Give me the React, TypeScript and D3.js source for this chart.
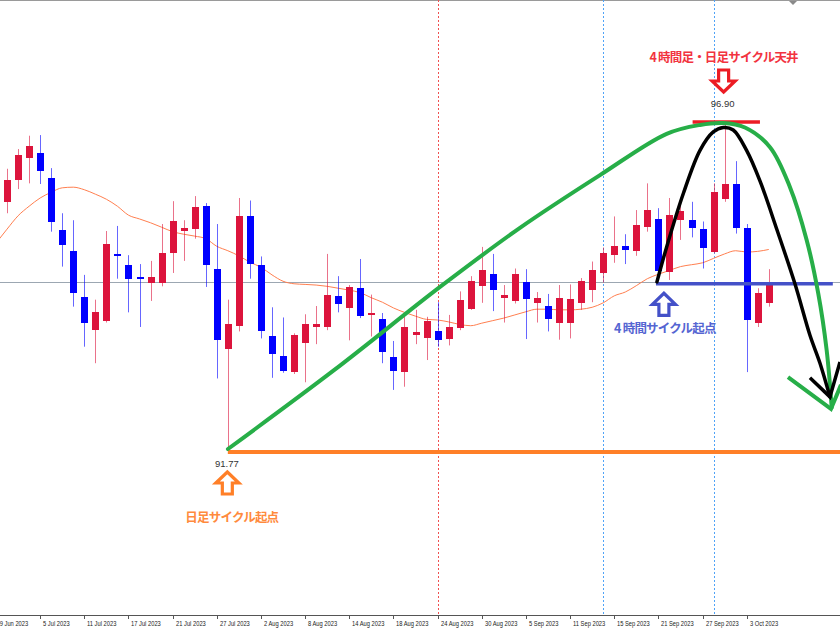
import React from "react";
import * as d3 from "d3";

// ---- data (daily candles) ----
const dates: string[] = [
  "2023-06-29", "2023-06-30",
  "2023-07-03", "2023-07-04", "2023-07-05", "2023-07-06", "2023-07-07", "2023-07-10", "2023-07-11",
  "2023-07-12", "2023-07-13", "2023-07-14", "2023-07-17", "2023-07-18", "2023-07-19", "2023-07-20",
  "2023-07-21", "2023-07-24", "2023-07-25", "2023-07-26", "2023-07-27", "2023-07-28", "2023-07-31",
  "2023-08-01", "2023-08-02", "2023-08-03", "2023-08-04", "2023-08-07", "2023-08-08", "2023-08-09",
  "2023-08-10", "2023-08-11", "2023-08-14", "2023-08-15", "2023-08-16", "2023-08-17", "2023-08-18",
  "2023-08-21", "2023-08-22", "2023-08-23", "2023-08-24", "2023-08-25", "2023-08-28", "2023-08-29",
  "2023-08-30", "2023-08-31", "2023-09-01", "2023-09-04", "2023-09-05", "2023-09-06", "2023-09-07",
  "2023-09-08", "2023-09-11", "2023-09-12", "2023-09-13", "2023-09-14", "2023-09-15", "2023-09-18",
  "2023-09-19", "2023-09-20", "2023-09-21", "2023-09-22", "2023-09-25", "2023-09-26", "2023-09-27",
  "2023-09-28", "2023-09-29", "2023-10-02", "2023-10-03", "2023-10-04", "2023-10-05",
];

const opens: (number | null)[] = [
  null, 95.65, 96.01, 96.35, 96.43, 96.04, 95.21, 94.89, 94.16, 93.64, 93.78, 94.84, 94.67, 94.48,
  94.38, 94.38, 94.85, 95.2, 95.23, 95.6, 94.61, 93.35, 93.71, 95.44, 94.66, 93.55, 93.24, 92.98,
  93.44, 93.69, 93.69, 94.18, 93.99, 94.3, 93.88, 93.82, 93.22, 92.98, 93.57, 93.52, 93.63, 93.5,
  93.67, 93.97, 94.34, 94.52, 94.15, 94.1, 94.4, 94.06, 94.02, 93.76, 93.75, 94.07, 94.27, 94.54,
  94.83, 94.96, 94.89, 95.27, 95.39, 94.56, 95.38, 95.37, 95.23, 94.87, 95.7, 95.94, 95.24, 93.76,
  94.06,
];
const highs: (number | null)[] = [
  null, 96.18, 96.49, 96.7, 96.71, 96.19, 95.48, 95.37, 94.51, 94.12, 95.2, 95.28, 94.82, 94.68,
  94.73, 95.31, 95.67, 95.37, 95.75, 95.64, 95.31, 94.12, 95.72, 95.68, 94.8, 94.0, 93.84, 93.59,
  93.89, 94.02, 94.84, 94.49, 94.35, 94.76, 94.2, 93.91, 93.47, 93.85, 93.96, 93.85, 94.08, 93.88,
  94.25, 94.49, 94.95, 94.84, 94.35, 94.61, 94.6, 94.24, 94.21, 94.35, 94.36, 94.46, 94.72, 94.94,
  95.43, 95.15, 95.53, 95.95, 95.56, 95.72, 95.61, 95.66, 95.35, 95.95, 96.9, 96.3, 95.31, 94.3,
  94.6,
];
const lows: (number | null)[] = [
  null, 95.48, 95.86, 95.95, 95.94, 95.19, 94.64, 94.01, 93.38, 93.12, 93.76, 94.45, 93.92, 93.69,
  94.1, 94.33, 94.54, 94.73, 95.08, 94.32, 92.88, 91.77, 93.62, 94.45, 93.51, 92.89, 92.97, 92.95,
  92.82, 93.42, 93.64, 93.92, 93.48, 93.83, 93.54, 93.12, 92.7, 92.75, 93.42, 93.17, 93.38, 93.4,
  93.64, 93.96, 94.07, 93.94, 93.76, 94.06, 93.5, 93.76, 93.62, 93.49, 93.51, 93.96, 94.08, 94.39,
  94.7, 94.68, 94.81, 95.19, 94.53, 94.43, 95.06, 95.1, 94.61, 94.85, 95.66, 95.16, 92.98, 93.69,
  94.01,
];
const closes: (number | null)[] = [
  null, 96.0, 96.39, 96.54, 96.14, 95.34, 94.98, 94.23, 93.75, 93.92, 95.0, 94.8, 94.44, 94.46,
  94.48, 94.85, 95.36, 95.25, 95.58, 94.67, 93.49, 93.73, 95.44, 94.68, 93.62, 93.26, 92.99, 93.56,
  93.73, 93.74, 94.2, 94.05, 94.32, 93.86, 93.91, 93.29, 93.0, 93.69, 93.61, 93.78, 93.49, 93.69,
  94.12, 94.42, 94.59, 94.27, 94.2, 94.53, 94.13, 94.14, 93.81, 94.15, 94.13, 94.41, 94.59, 94.85,
  94.97, 94.9, 95.3, 95.53, 94.57, 95.45, 95.52, 95.24, 94.94, 95.82, 95.94, 95.24, 93.8, 94.22,
  94.39,
];
// moving average line (orange), value at each bar
const maValues: number[] = [
  95.01, 95.23, 95.44, 95.59, 95.72, 95.81, 95.88, 95.89, 95.85, 95.78, 95.7, 95.59, 95.45, 95.39,
  95.33, 95.26, 95.19, 95.15, 95.12, 95.08, 94.96, 94.89, 94.81, 94.71, 94.63, 94.51, 94.41, 94.37,
  94.36, 94.35, 94.33, 94.3, 94.27, 94.23, 94.15, 94.08, 93.99, 93.92, 93.86, 93.81, 93.8, 93.77,
  93.73, 93.71, 93.75, 93.79, 93.83, 93.88, 93.93, 93.97, 93.97, 93.96, 93.96, 93.97, 94.0, 94.07,
  94.18, 94.24, 94.34, 94.45, 94.52, 94.58, 94.64, 94.67, 94.7, 94.77, 94.84, 94.89, 94.87, 94.88,
  94.91,
];

const tickLabels: string[] = [
  "29 Jun 2023", "5 Jul 2023", "11 Jul 2023", "17 Jul 2023", "21 Jul 2023", "27 Jul 2023",
  "2 Aug 2023", "8 Aug 2023", "14 Aug 2023", "18 Aug 2023", "24 Aug 2023", "30 Aug 2023",
  "5 Sep 2023", "11 Sep 2023", "15 Sep 2023", "21 Sep 2023", "27 Sep 2023", "3 Oct 2023",
];

// annotation levels and drawn paths (bar index, price)
const cycleLow = 91.77;
const cycleHigh = 96.9;
const priceLine = 94.4;
const fourHourStart = 94.37;
const redSeparator = ["2023-08-24"];
const blueSeparators = ["2023-09-14", "2023-09-28"];

const greenCurve: [number, number][] = [
  [21.01, 91.77], [30.62, 93.01], [40.22, 94.32], [47.46, 95.25], [54.71, 96.08],
  [60.75, 96.73], [63.77, 96.87], [65.85, 96.9], [67.84, 96.83], [70.11, 96.52],
  [71.92, 95.89], [73.43, 95.06], [74.48, 94.22], [75.24, 93.33], [75.7, 92.42],
];
const greenHead: [number, number][] = [[71.74, 92.9], [75.63, 92.4], [76.54, 92.78]];
const blackCurve: [number, number][] = [
  [59.87, 94.4], [60.75, 94.95], [62.26, 95.79], [63.77, 96.47], [64.97, 96.76],
  [65.88, 96.83], [66.78, 96.79], [67.99, 96.47], [69.2, 95.99], [70.74, 95.22],
  [72.37, 94.37], [73.73, 93.56], [74.64, 93.12], [75.54, 92.59],
];
const blackHead: [number, number][] = [[73.73, 92.89], [75.54, 92.59], [76.45, 93.14]];

const W = 840;
const H = 630;
const AXIS_Y = 615;

const UP = "#DC143C";
const DOWN = "#0000FF";

function BlockArrow({ cx, tipY, dir, color }: { cx: number; tipY: number; dir: "up" | "down"; color: string }) {
  const hw = 11.5; // head half width
  const sw = 5; // shaft half width
  const hh = 11; // head height
  const total = 22;
  const s = dir === "down" ? -1 : 1;
  const pts: [number, number][] = [
    [cx, tipY],
    [cx + hw, tipY + s * hh],
    [cx + sw, tipY + s * hh],
    [cx + sw, tipY + s * total],
    [cx - sw, tipY + s * total],
    [cx - sw, tipY + s * hh],
    [cx - hw, tipY + s * hh],
  ];
  return (
    <polygon
      points={pts.map((p) => p.join(",")).join(" ")}
      fill="#fff"
      stroke={color}
      strokeWidth={3.2}
      strokeLinejoin="miter"
    />
  );
}

export default function App() {
  const parse = d3.timeParse("%Y-%m-%d");
  const fmt = d3.timeFormat("%-d %b %Y");
  const labelsOfDates = dates.map((d) => fmt(parse(d) as Date));

  const x = d3.scaleLinear().domain([0, 68]).range([-4, 746.7]);
  const y = d3.scaleLinear().domain([cycleLow, cycleHigh]).range([449, 123]);

  const idxOf = (d: string) => dates.indexOf(d);

  const maLine = d3
    .line<number>()
    .x((_, i) => x(i))
    .y((v) => y(v))
    .curve(d3.curveMonotoneX);

  const annLine = d3
    .line<[number, number]>()
    .x((d) => x(d[0]))
    .y((d) => y(d[1]))
    .curve(d3.curveCatmullRom.alpha(0.5));
  const straight = d3
    .line<[number, number]>()
    .x((d) => x(d[0]))
    .y((d) => y(d[1]));

  const topIdx = highs.indexOf(cycleHigh);
  const lowIdx = lows.indexOf(cycleLow);
  const fourIdx = 59.87;

  const jpFont = "'Noto Sans CJK JP', 'Noto Sans', sans-serif";
  const axisFont = "'Liberation Sans', 'DejaVu Sans', sans-serif";

  return (
    <svg
      width={W}
      height={H}
      viewBox={`0 0 ${W} ${H}`}
      style={{ position: "absolute", left: 0, top: 0, background: "#fff" }}
    >
      <rect x={0} y={0} width={W} height={H} fill="#fff" />
      <rect x={0} y={0} width={W} height={1} fill="#9a9a9a" />
      <polygon points="789,1 797,1 793,5" fill="#8a8a8a" />

      {/* period separators */}
      {redSeparator.map((d) => {
        const xx = Math.round(x(idxOf(d))) + 0.5;
        return <line key={d} x1={xx} x2={xx} y1={0} y2={AXIS_Y} stroke="#F05050" strokeWidth={1} strokeDasharray="2,2" />;
      })}
      {blueSeparators.map((d) => {
        const xx = Math.round(x(idxOf(d))) + 0.5;
        return <line key={d} x1={xx} x2={xx} y1={0} y2={AXIS_Y} stroke="#4FA3F7" strokeWidth={1} strokeDasharray="2,2" />;
      })}

      {/* horizontal price line */}
      <line x1={0} x2={W} y1={Math.round(y(priceLine)) + 0.5} y2={Math.round(y(priceLine)) + 0.5} stroke="#9CA7B2" strokeWidth={1} />

      {/* moving average */}
      <path d={maLine(maValues) || ""} fill="none" stroke="#FF7F50" strokeWidth={1} />

      {/* candles */}
      {dates.map((d, i) => {
        const o = opens[i], h = highs[i], l = lows[i], c = closes[i];
        if (o == null || h == null || l == null || c == null) return null;
        const cx = Math.round(x(i));
        const up = c >= o;
        const col = up ? UP : DOWN;
        const top = Math.round(y(Math.max(o, c)));
        const bot = Math.round(y(Math.min(o, c)));
        return (
          <g key={d}>
            <line x1={cx + 0.5} x2={cx + 0.5} y1={y(h)} y2={y(l)} stroke={col} strokeWidth={1} strokeOpacity={0.6} />
            <rect x={cx - 3} y={top} width={7} height={Math.max(2, bot - top)} fill={col} />
          </g>
        );
      })}

      {/* cycle levels */}
      <line x1={x(lowIdx)} x2={W} y1={y(cycleLow) + 3} y2={y(cycleLow) + 3} stroke="#FF7F27" strokeWidth={4} />
      <line x1={x(fourIdx) - 1} x2={x(75.8)} y1={y(fourHourStart)} y2={y(fourHourStart)} stroke="#4451C8" strokeWidth={3.5} />
      <line x1={x(63.1)} x2={x(69.2)} y1={y(cycleHigh) - 1} y2={y(cycleHigh) - 1} stroke="#EC1C24" strokeWidth={3.5} />

      {/* cycle curves */}
      <path d={annLine(greenCurve) || ""} fill="none" stroke="#27AE48" strokeWidth={4} strokeLinecap="round" />
      <path d={straight(greenHead) || ""} fill="none" stroke="#27AE48" strokeWidth={4} strokeLinejoin="miter" />
      <path d={annLine(blackCurve) || ""} fill="none" stroke="#000" strokeWidth={3.5} strokeLinecap="round" />
      <path d={straight(blackHead) || ""} fill="none" stroke="#000" strokeWidth={3.5} strokeLinejoin="miter" />

      {/* price labels */}
      <text x={x(topIdx) - 2} y={y(cycleHigh) - 16.5} fontFamily="'Liberation Sans', sans-serif" fontSize={9.5} fill="#333" textAnchor="middle">
        {cycleHigh.toFixed(2)}
      </text>
      <text x={x(lowIdx) - 1} y={y(cycleLow) + 17.5} fontFamily="'Liberation Sans', sans-serif" fontSize={9.5} fill="#333" textAnchor="middle">
        {cycleLow.toFixed(2)}
      </text>

      {/* annotations */}
      <BlockArrow cx={x(topIdx) - 1} tipY={y(cycleHigh) - 31} dir="down" color="#EC1C24" />
      <text x={x(topIdx) - 1} y={61.5} fontFamily={jpFont} fontWeight={700} fontSize={12.5} letterSpacing={-0.8} fill="#F2333F" textAnchor="middle">
        4 時間足・日足サイクル天井
      </text>

      <BlockArrow cx={x(lowIdx) - 0.5} tipY={y(cycleLow) + 23} dir="up" color="#FF7F27" />
      <text x={x(lowIdx) + 4} y={522} fontFamily={jpFont} fontWeight={700} fontSize={12.5} letterSpacing={-0.8} fill="#FF8A3D" textAnchor="middle">
        日足サイクル起点
      </text>

      <BlockArrow cx={x(60.5)} tipY={y(fourHourStart) + 9.5} dir="up" color="#4451C8" />
      <text x={x(60.5) + 1} y={332.5} fontFamily={jpFont} fontWeight={700} fontSize={12.5} letterSpacing={-0.8} fill="#5565D2" textAnchor="middle">
        4 時間サイクル起点
      </text>

      {/* x axis */}
      <line x1={0} x2={W} y1={AXIS_Y + 0.5} y2={AXIS_Y + 0.5} stroke="#555" strokeWidth={1} />
      {tickLabels.map((t, k) => {
        const i = labelsOfDates.indexOf(t);
        const xx = Math.round(x(i)) + 0.5;
        const lx = xx + (k === 0 ? 0 : 2.5);
        return (
          <g key={t}>
            <line x1={xx} x2={xx} y1={AXIS_Y} y2={AXIS_Y + 4} stroke="#555" strokeWidth={1} />
            <text
              transform={`translate(${lx},625.5) scale(0.76,1)`}
              fontFamily={axisFont}
              fontSize={7.6}
              fill="#222"
            >
              {t}
            </text>
          </g>
        );
      })}
    </svg>
  );
}
